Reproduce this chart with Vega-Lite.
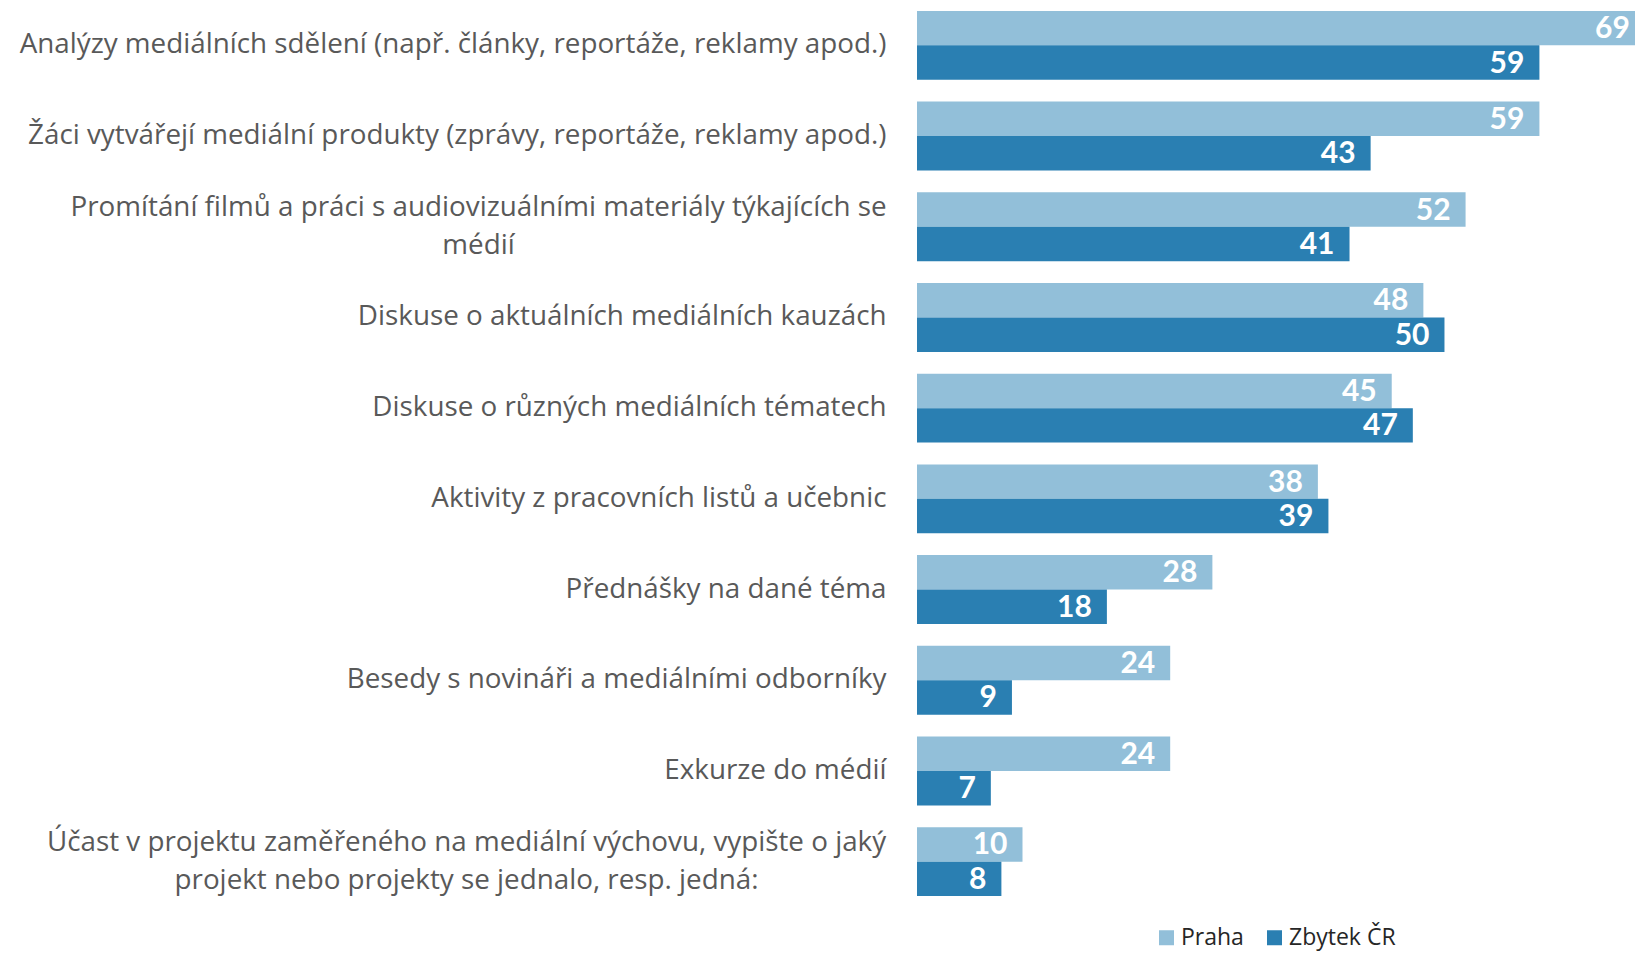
{
  "$schema": "https://vega.github.io/schema/vega-lite/v6.json",
  "autosize": {"type": "none"},
  "padding": {"left": 917, "top": 0, "right": 0, "bottom": 46},
  "width": 718,
  "height": 907,
  "background": "white",
  "config": {"view": {"stroke": null}, "font": "Open Sans"},
  "data": {
    "values": [
      {"cat": "Analýzy mediálních sdělení (např. články, reportáže, reklamy apod.)", "serie": "Praha", "val": 69},
      {"cat": "Analýzy mediálních sdělení (např. články, reportáže, reklamy apod.)", "serie": "Zbytek ČR", "val": 59},
      {"cat": "Žáci vytvářejí mediální produkty (zprávy, reportáže, reklamy apod.)", "serie": "Praha", "val": 59},
      {"cat": "Žáci vytvářejí mediální produkty (zprávy, reportáže, reklamy apod.)", "serie": "Zbytek ČR", "val": 43},
      {"cat": "Promítání filmů a práci s audiovizuálními materiály týkajících se|médií", "serie": "Praha", "val": 52},
      {"cat": "Promítání filmů a práci s audiovizuálními materiály týkajících se|médií", "serie": "Zbytek ČR", "val": 41},
      {"cat": "Diskuse o aktuálních mediálních kauzách", "serie": "Praha", "val": 48},
      {"cat": "Diskuse o aktuálních mediálních kauzách", "serie": "Zbytek ČR", "val": 50},
      {"cat": "Diskuse o různých mediálních tématech", "serie": "Praha", "val": 45},
      {"cat": "Diskuse o různých mediálních tématech", "serie": "Zbytek ČR", "val": 47},
      {"cat": "Aktivity z pracovních listů a učebnic", "serie": "Praha", "val": 38},
      {"cat": "Aktivity z pracovních listů a učebnic", "serie": "Zbytek ČR", "val": 39},
      {"cat": "Přednášky na dané téma", "serie": "Praha", "val": 28},
      {"cat": "Přednášky na dané téma", "serie": "Zbytek ČR", "val": 18},
      {"cat": "Besedy s novináři a mediálními odborníky", "serie": "Praha", "val": 24},
      {"cat": "Besedy s novináři a mediálními odborníky", "serie": "Zbytek ČR", "val": 9},
      {"cat": "Exkurze do médií", "serie": "Praha", "val": 24},
      {"cat": "Exkurze do médií", "serie": "Zbytek ČR", "val": 7},
      {"cat": "Účast v projektu zaměřeného na mediální výchovu, vypište o jaký|projekt nebo projekty se jednalo, resp. jedná:", "serie": "Praha", "val": 10},
      {"cat": "Účast v projektu zaměřeného na mediální výchovu, vypište o jaký|projekt nebo projekty se jednalo, resp. jedná:", "serie": "Zbytek ČR", "val": 8}
    ]
  },
  "encoding": {
    "y": {
      "field": "cat", "type": "nominal", "sort": null,
      "scale": {"paddingInner": 0.24, "paddingOuter": 0.12},
      "axis": {
        "title": null, "domain": false, "ticks": false,
        "labelExpr": "split(datum.label, '|')",
        "labelFont": "Open Sans", "labelFontSize": 27.8, "labelColor": "#595959",
        "labelLineHeight": 38.5, "labelLimit": 0,
        "labelAlign": {"condition": {"test": "indexof(datum.value, '|') >= 0", "value": "center"}, "value": "right"},
        "labelOffset": {"condition": {"test": "indexof(datum.value, '|') >= 0", "value": -19}, "value": 0},
        "labelPadding": {"condition": [
          {"test": "indexof(datum.value, 'Promítání') >= 0", "value": 439},
          {"test": "indexof(datum.value, 'Účast') >= 0", "value": 451}
        ], "value": 31}
      }
    },
    "yOffset": {"field": "serie", "type": "nominal", "sort": ["Praha", "Zbytek ČR"], "scale": {"paddingInner": 0, "paddingOuter": 0}},
    "x": {
      "field": "val", "type": "quantitative",
      "scale": {"domain": [0, 68.06], "nice": false, "zero": true},
      "axis": null
    }
  },
  "layer": [
    {
      "mark": {"type": "bar", "clip": true},
      "encoding": {
        "color": {
          "field": "serie", "type": "nominal",
          "scale": {"domain": ["Praha", "Zbytek ČR"], "range": ["#92bfd9", "#2a7fb2"]},
          "legend": {
            "title": null, "orient": "none", "direction": "horizontal",
            "legendX": 238, "legendY": 926,
            "symbolType": "square", "symbolSize": 225, "symbolStrokeWidth": 0,
            "labelFont": "Open Sans", "labelFontSize": 23, "labelColor": "#262626",
            "labelOffset": 3, "columnPadding": 19
          }
        }
      }
    },
    {
      "mark": {"type": "text", "align": "right", "baseline": "middle", "dx": -15, "dy": 1, "font": "Lato", "fontWeight": "bold", "fontSize": 30, "color": "white"},
      "encoding": {"text": {"field": "val", "type": "quantitative"}}
    }
  ]
}
